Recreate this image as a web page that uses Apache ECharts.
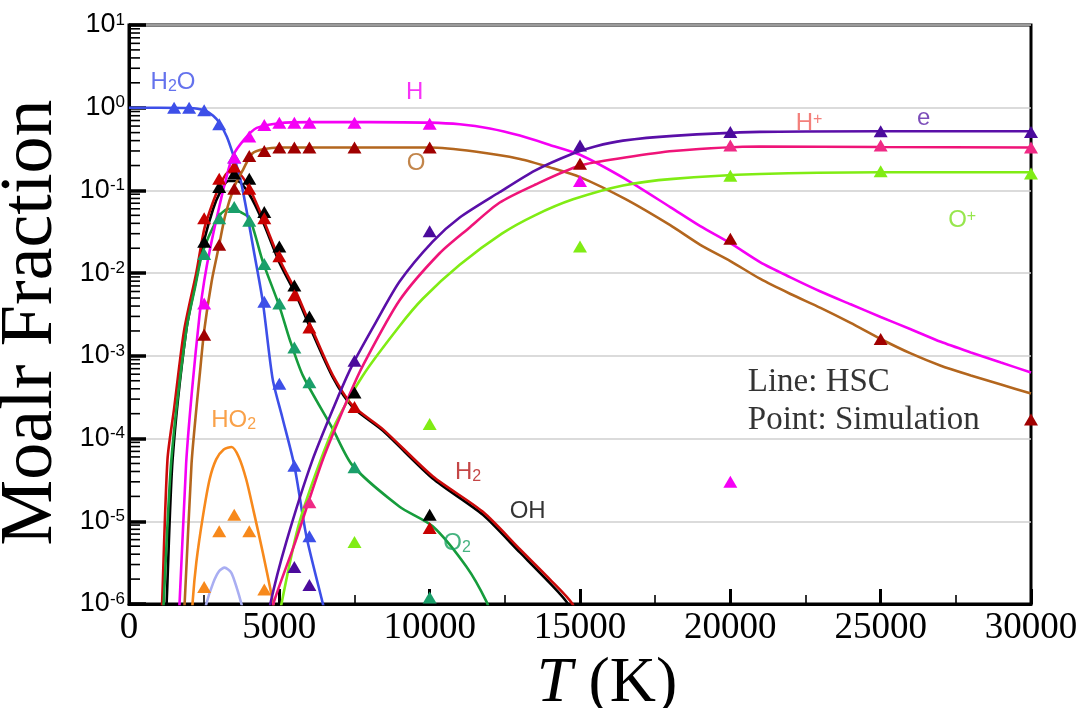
<!DOCTYPE html>
<html><head><meta charset="utf-8">
<script src="https://cdn.jsdelivr.net/npm/echarts@6/dist/echarts.min.js"></script>
<style>html,body{margin:0;padding:0;background:#fff}#c{width:1088px;height:708px}</style>
</head><body><div id="c"></div><script>
// ---------- HSC equilibrium lines: [T (K), molar fraction] ----------
const lineH2O = [[0,1.0],[1000,1.0],[2000,0.99],[2500,0.93],[2800,0.8],[3000,0.66],[3250,0.45],[3450,0.28],[3700,0.14],[3900,0.06],[4150,0.0186],[4450,4.5e-3],[4780,5.2e-4],[5100,1.8e-4],[5500,4.7e-5],[5900,6.6e-6],[6450,1e-6],[6550,7e-7]];
const lineH = [[1600,5e-7],[1680,1e-6],[1900,5e-5],[2100,4e-4],[2350,3.2e-3],[2500,8e-3],[2700,0.02],[3000,0.063],[3200,0.126],[3450,0.26],[3850,0.42],[4250,0.57],[5000,0.65],[6000,0.67],[8000,0.67],[10000,0.66],[11000,0.63],[12000,0.56],[13000,0.46],[14000,0.355],[15000,0.27],[16500,0.138],[18000,0.063],[19000,0.037],[20000,0.023],[21000,0.0135],[22000,8.9e-3],[23000,6e-3],[24000,4.2e-3],[25000,2.95e-3],[26000,2.1e-3],[27000,1.48e-3],[28000,1.1e-3],[29000,8.3e-4],[30000,6.3e-4]];
const lineO = [[1780,5e-7],[1850,1e-6],[2080,5e-5],[2250,2.5e-4],[2350,5.8e-4],[2500,2e-3],[2750,8e-3],[3000,0.022],[3200,0.05],[3500,0.11],[3800,0.18],[4100,0.28],[4500,0.316],[5000,0.33],[10000,0.33],[11500,0.295],[13000,0.24],[14000,0.19],[15000,0.145],[16500,0.079],[18000,0.038],[19000,0.022],[20000,0.014],[21000,8.5e-3],[22000,5.6e-3],[23000,3.8e-3],[24000,2.5e-3],[25000,1.6e-3],[26000,1.07e-3],[27000,7.6e-4],[28000,5.8e-4],[29000,4.5e-4],[30000,3.5e-4]];
const lineH2 = [[1060,5e-7],[1100,1e-6],[1280,5.6e-5],[1500,2.3e-4],[1830,2e-3],[2240,0.0102],[2510,0.035],[2780,0.07],[3000,0.11],[3300,0.166],[3600,0.166],[4010,0.105],[4450,0.046],[5000,0.0148],[5560,5.9e-3],[6000,2.5e-3],[6780,5.8e-4],[7440,2.5e-4],[8440,1.3e-4],[10100,3.5e-5],[11770,1.3e-5],[13000,4.6e-6],[13990,2e-6],[14750,1e-6],[14900,6e-7]];
const lineOH = [[1200,5e-7],[1250,1e-6],[1450,5.6e-5],[1900,2e-3],[2250,9e-3],[2500,0.025],[2800,0.06],[3000,0.09],[3300,0.13],[3600,0.13],[4000,0.09],[4450,0.042],[5000,0.0135],[5560,5.4e-3],[6000,2.3e-3],[6780,5.5e-4],[7440,2.4e-4],[8440,1.25e-4],[10100,3.3e-5],[11770,1.2e-5],[13000,4.2e-6],[13990,1.8e-6],[14600,1e-6],[14750,6e-7]];
const lineO2 = [[1100,5e-7],[1150,1e-6],[1410,5.6e-5],[1910,2.1e-3],[2200,6.8e-3],[2450,0.018],[2950,0.046],[3200,0.058],[3450,0.06],[3700,0.055],[4010,0.046],[4450,0.0138],[5000,4e-3],[5340,1.6e-3],[5780,5.8e-4],[6780,1.3e-4],[7440,4.7e-5],[9000,1.5e-5],[10100,8.7e-6],[11230,2.8e-6],[11890,1.07e-6],[12050,7e-7]];
const lineHO2 = [[2080,5e-7],[2120,1.1e-6],[2240,3.2e-6],[2450,1.1e-5],[2680,3.2e-5],[2900,5.6e-5],[3150,7.4e-5],[3410,7.9e-5],[3650,6e-5],[3900,3.2e-5],[4150,1.3e-5],[4450,4.2e-6],[4730,1.35e-6],[4800,1e-6],[4850,7e-7]];
const lineH2O2 = [[2500,7e-7],[2570,1e-6],[2800,1.8e-6],[3000,2.5e-6],[3180,2.75e-6],[3400,2.4e-6],[3600,1.5e-6],[3740,1e-6],[3800,8e-7]];
const lineE = [[4650,6e-7],[4700,1e-6],[5230,5.6e-6],[6110,5.6e-5],[7000,3.5e-4],[7440,7.9e-4],[8200,2.5e-3],[9000,7.9e-3],[10100,0.024],[11000,0.047],[12320,0.095],[13500,0.174],[14770,0.28],[15500,0.34],[16430,0.4],[18100,0.457],[20980,0.51],[25000,0.52],[30000,0.52]];
const lineHplus = [[4750,6e-7],[4800,1e-6],[5530,5.6e-6],[6450,5.6e-5],[7350,3.5e-4],[7800,7.9e-4],[9000,4.7e-3],[10330,0.0174],[11300,0.035],[12320,0.071],[13500,0.117],[15000,0.2],[16500,0.25],[18100,0.3],[20980,0.34],[25000,0.335],[30000,0.33]];
const lineOplus = [[5000,6e-7],[5070,1e-6],[5670,9.8e-6],[6780,1.3e-4],[7780,5.8e-4],[9000,2.3e-3],[9770,4.9e-3],[11000,0.0126],[12400,0.03],[13500,0.05],[14770,0.078],[16430,0.115],[18100,0.138],[20980,0.158],[25000,0.166],[30000,0.166]];

// ---------- Simulation points: [T (K), molar fraction] ----------
const simH2O = [[1500,1.0],[2000,1.0],[2500,0.93],[3000,0.63],[3500,0.25],[4500,4.5e-3],[5000,4.6e-4],[5500,4.7e-5],[6000,6.6e-6]];
const simH = [[2500,4.3e-3],[3500,0.25],[4000,0.45],[4500,0.62],[5000,0.66],[5500,0.66],[6000,0.66],[7500,0.66],[10000,0.64],[15000,0.13],[20000,3e-5]];
const simO = [[2500,1.8e-3],[3000,0.022],[3500,0.105],[4000,0.26],[4500,0.3],[5000,0.33],[5500,0.33],[6000,0.33],[7500,0.33],[10000,0.33],[15000,0.21],[20000,0.026],[25000,1.6e-3],[30000,1.7e-4]];
const simH2 = [[2500,0.046],[3000,0.138],[3500,0.195],[4000,0.105],[4500,0.046],[5000,0.016],[5500,5.4e-3],[6000,2.2e-3],[7500,2.4e-4],[10000,8.3e-6]];
const simOH = [[2500,0.024],[3000,0.11],[3500,0.16],[4000,0.138],[4500,0.055],[5000,0.021],[5500,7.1e-3],[6000,3e-3],[7500,3.6e-4],[10000,1.2e-5]];
const simO2 = [[2500,0.017],[3000,0.046],[3500,0.063],[4000,0.043],[4500,0.0129],[5000,4.3e-3],[5500,1.26e-3],[6000,4.8e-4],[7500,4.5e-5],[10000,1.2e-6]];
const simHO2 = [[2500,1.6e-6],[3000,7.6e-6],[3500,1.2e-5],[4000,7.6e-6],[4500,1.5e-6]];
const simE = [[5500,2.8e-6],[6000,1.7e-6],[7500,8.7e-4],[10000,0.032],[15000,0.35],[20000,0.51],[25000,0.52],[30000,0.51]];
const simHplus = [[6000,1.7e-5],[20000,0.35],[25000,0.35],[30000,0.33]];
const simOplus = [[7500,5.6e-6],[10000,1.5e-4],[15000,0.021],[20000,0.15],[25000,0.17],[30000,0.16]];

// ---------- axis settings ----------
const xMin = 0, xMax = 30000, xStep = 5000;
const yMin = 1e-6, yMax = 10;

// ---------- in-plot annotations (anchor in data units) ----------
const annotations = [
  {text:'{n|H}{sub|2}{n|O}', T:1465, v:2.0, color:'#3d4fe8'},
  {text:'{n|H}', T:9500, v:1.54, color:'#f500f5'},
  {text:'{n|O}', T:9550, v:0.21, color:'#b3661e'},
  {text:'{m|H}{sup|+}', T:22620, v:0.64, color:'#f0605a'},
  {text:'{n|e}', T:26430, v:0.746, color:'#5a1fa8'},
  {text:'{m|O}{sup|+}', T:27710, v:0.043, color:'#7de021'},
  {text:'{n|HO}{sub|2}', T:3480, v:1.67e-4, color:'#f7891c'},
  {text:'{n|H}{sub|2}', T:11280, v:3.92e-5, color:'#b51818'},
  {text:'{n|OH}', T:13260, v:1.3e-5, color:'#000000'},
  {text:'{n|O}{sub|2}', T:10910, v:5.42e-6, color:'#18a060'},
  {text:'{tm|Line: HSC}', T:20580, v:4.82e-4, color:'#000000', align:'left'},
  {text:'{tm|Point: Simulation}', T:20580, v:1.67e-4, color:'#000000', align:'left'}
];

const lineDefs = [
  ['H2O2', lineH2O2, '#a9aef2'],
  ['HO2', lineHO2, '#f7891c'],
  ['OH', lineOH, '#000000'],
  ['H2', lineH2, '#cc0a0a'],
  ['O2', lineO2, '#169c3c'],
  ['H2O', lineH2O, '#3d4fe8'],
  ['O', lineO, '#b3661e'],
  ['H', lineH, '#f500f5'],
  ['O+', lineOplus, '#80ec14'],
  ['H+', lineHplus, '#ef1478'],
  ['e', lineE, '#5a0fa8']
];
const simDefs = [
  ['HO2 sim', simHO2, '#f7891c'],
  ['O2 sim', simO2, '#1a9f6a'],
  ['OH sim', simOH, '#000000'],
  ['H2 sim', simH2, '#c80000'],
  ['O sim', simO, '#a00000'],
  ['H2O sim', simH2O, '#3d4fe8'],
  ['H sim', simH, '#f500f5'],
  ['O+ sim', simOplus, '#80ec14'],
  ['H+ sim', simHplus, '#ef2a85'],
  ['e sim', simE, '#4b0b9c']
];

// minor log ticks (2..9 x each decade)
const minorTickVals = [];
for (let d = -6; d < 1; d++) for (let m = 2; m <= 9; m++) minorTickVals.push([0, m * Math.pow(10, d)]);

const series = [];
lineDefs.forEach(([name, data, color]) => series.push({
  name, type:'line', data, showSymbol:false, symbol:'none', smooth:0.25,
  lineStyle:{color, width:2.6}, itemStyle:{color}, z:3, silent:true
}));
simDefs.forEach(([name, data, color]) => series.push({
  name, type:'scatter', data, symbol:'triangle', symbolSize:[14,12],
  itemStyle:{color, opacity:1}, z:5, silent:true
}));
series.push({
  type:'custom', data:minorTickVals, silent:true, clip:false, z:6,
  renderItem:(params, api) => {
    const p = api.coord([api.value(0), api.value(1)]);
    return {type:'line', shape:{x1:p[0], y1:p[1], x2:p[0]+11, y2:p[1]}, style:{stroke:'#000', lineWidth:1.6}};
  }
});
series.push({
  type:'scatter', silent:true, z:8, symbolSize:1, itemStyle:{color:'rgba(0,0,0,0)'},
  data: annotations.map(a => ({value:[a.T, a.v], label:{formatter:a.text, color:a.color, align:a.align || 'center'}})),
  label:{show:true, position:'inside', fontFamily:'Liberation Sans', fontSize:24,
    rich:{
      n:{fontFamily:'Liberation Sans', fontSize:24, lineHeight:24, verticalAlign:'top', padding:[0,0,6,0]},
      sub:{fontFamily:'Liberation Sans', fontSize:16, lineHeight:16, verticalAlign:'bottom'},
      m:{fontFamily:'Liberation Sans', fontSize:24, lineHeight:24, verticalAlign:'bottom', padding:[6,0,0,0]},
      sup:{fontFamily:'Liberation Sans', fontSize:16, lineHeight:16, verticalAlign:'top'},
      tm:{fontFamily:'Liberation Serif', fontSize:33, lineHeight:36, color:'#000'}
    }}
});

const chart = echarts.init(document.getElementById('c'), null, {renderer:'canvas'});
chart.setOption({
  animation:false,
  backgroundColor:'#ffffff',
  grid:{left:129, right:57, top:25, bottom:104, outerBoundsMode:'none', containLabel:false,
    show:true, borderColor:'#000', borderWidth:3, backgroundColor:'transparent'},
  xAxis:{
    type:'value', min:xMin, max:xMax, interval:xStep,
    name:'{i|T} (K)', nameLocation:'middle', nameGap:32,
    nameTextStyle:{fontFamily:'Liberation Serif', fontSize:64, color:'#000', padding:[0,0,0,54],
      rich:{i:{fontFamily:'Liberation Serif', fontStyle:'italic', fontSize:64, color:'#000'}}},
    axisLine:{show:true, lineStyle:{color:'#000', width:3}},
    axisTick:{show:true, inside:true, length:15, lineStyle:{color:'#000', width:3}},
    minorTick:{show:true, splitNumber:2, length:9, lineStyle:{color:'#000', width:1.6}},
    axisLabel:{fontFamily:'Liberation Serif', fontSize:37, color:'#000', margin:6, formatter:(v) => String(v)},
    splitLine:{show:false}
  },
  yAxis:{
    type:'log', logBase:10, min:yMin, max:yMax,
    name:'Moalr Fraction', nameLocation:'middle', nameRotate:90, nameGap:47,
    nameTextStyle:{fontFamily:'Liberation Serif', fontSize:74, color:'#000', padding:[0,16,0,0]},
    axisLine:{show:true, lineStyle:{color:'#000', width:3}},
    axisTick:{show:true, inside:true, length:17, lineStyle:{color:'#000', width:3.5}},
    axisLabel:{margin:4, color:'#000',
      formatter:(v) => '{b|10}{s|' + Math.round(Math.log10(v)) + '}',
      rich:{
        b:{fontFamily:'Liberation Sans', fontSize:27, lineHeight:27, verticalAlign:'middle', padding:[6,0,6,0], color:'#000'},
        s:{fontFamily:'Liberation Sans', fontSize:17, lineHeight:17, verticalAlign:'top', color:'#000'}
      }},
    splitLine:{show:true, lineStyle:{color:'#cfcfcf', width:1.5}}
  },
  series
});
</script></body></html>
